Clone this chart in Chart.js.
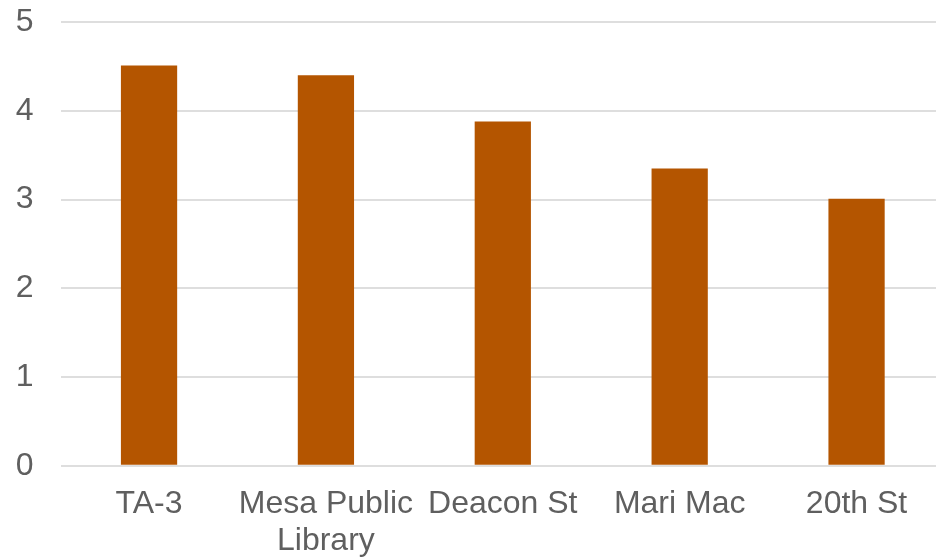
<!DOCTYPE html>
<html>
<head>
<meta charset="utf-8">
<script src="https://cdn.jsdelivr.net/npm/chart.js@4"></script>
<style>
  html, body { margin: 0; padding: 0; background: #fff; overflow: hidden; }
  #wrap { width: 945px; height: 559px; }
</style>
</head>
<body>
<div id="wrap"><canvas id="chart"></canvas></div>
<script>
'use strict';
// data
const sites  = ['TA-3', ['Mesa Public', 'Library'], 'Deacon St', 'Mari Mac', '20th St'];
const values = [4.51, 4.40, 3.88, 3.35, 3.01];
const yTicks = [0, 1, 2, 3, 4, 5];

const TEXT = '#5f5f5f';
const FONT = { family: '"Liberation Sans", Arial, sans-serif', size: 32, lineHeight: 1.16 };

new Chart(document.getElementById('chart'), {
  type: 'bar',
  data: {
    labels: sites,
    datasets: [{ data: values, backgroundColor: '#b45500', borderWidth: 0,
                 barPercentage: 1, categoryPercentage: 0.318 }]
  },
  options: {
    responsive: true, maintainAspectRatio: false, animation: false,
    layout: { padding: { left: 16, right: 0, top: 22, bottom: 1 } },
    plugins: { legend: { display: false }, tooltip: { enabled: false } },
    scales: {
      x: {
        grid: { display: false, drawTicks: false },
        border: { display: false },
        ticks: { color: TEXT, font: FONT, padding: 20, maxRotation: 0, autoSkip: false },
        // keep the axis band tight: padding + two label lines
        afterFit: s => { s.paddingLeft = 0; s.paddingRight = 0; s.height = 92.2; }
      },
      y: {
        min: yTicks[0], max: yTicks[yTicks.length - 1],
        afterBuildTicks: s => { s.ticks = yTicks.map(v => ({ value: v })); },
        grid: { color: '#dedede', lineWidth: 2, drawTicks: false },
        border: { display: false },
        ticks: { color: TEXT, font: FONT, padding: 27 },
        afterFit: s => { s.paddingTop = 0; s.paddingBottom = 0; s.width = 44.6; }
      }
    }
  }
});
</script>
</body>
</html>
